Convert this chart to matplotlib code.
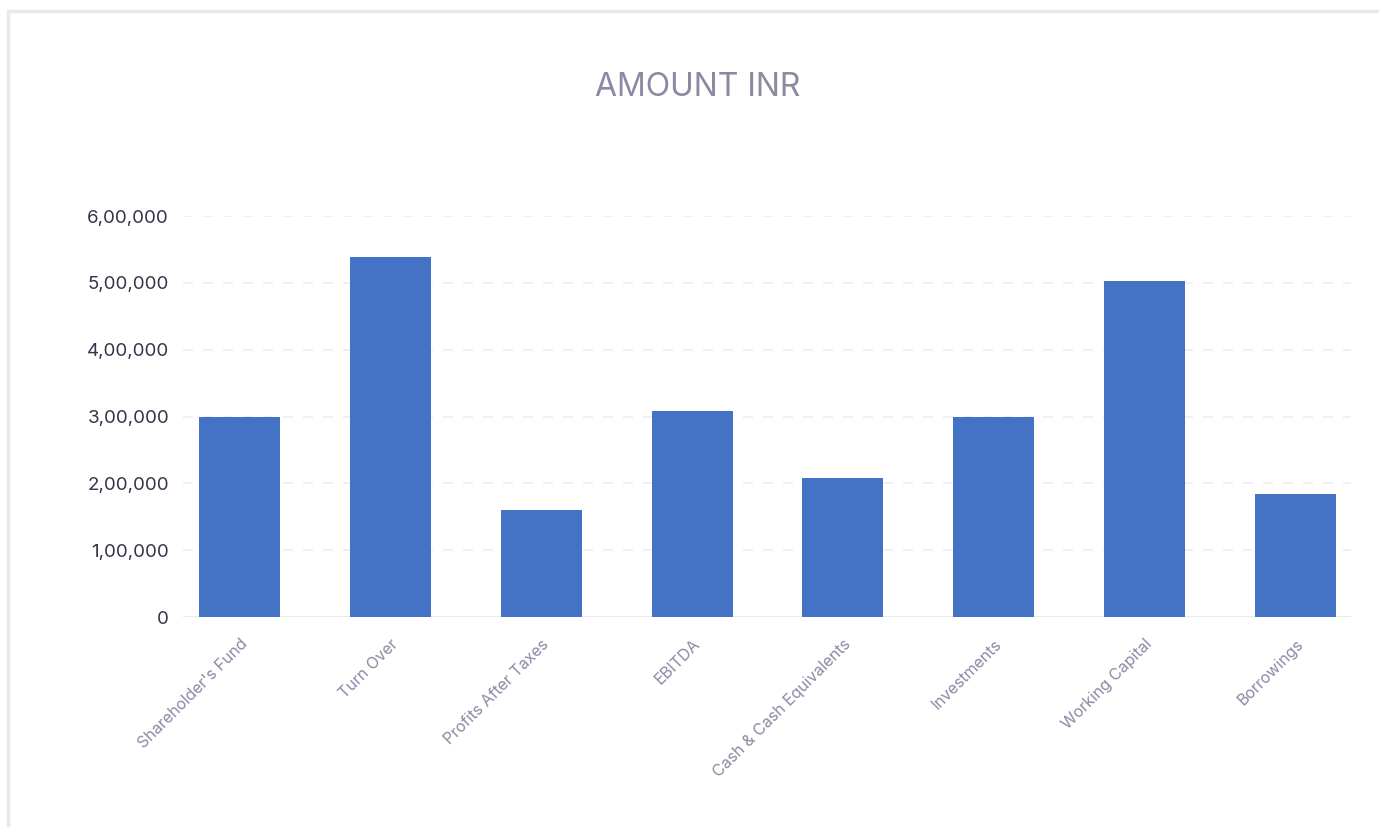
import matplotlib.pyplot as plt
from matplotlib.patches import Rectangle
from matplotlib.ticker import FuncFormatter

categories = ["Shareholder's Fund", "Turn Over", "Profits After Taxes", "EBITDA",
              "Cash & Cash Equivalents", "Investments", "Working Capital", "Borrowings"]
amounts = [300000, 538000, 160000, 308000, 208000, 300000, 503000, 184000]
y_ticks = [0, 100000, 200000, 300000, 400000, 500000, 600000]

plt.rcParams['font.family'] = ['Inter', 'DejaVu Sans']


def indian_format(v, pos=None):
    v = int(round(v))
    s = str(v)
    if len(s) <= 3:
        return s
    head, tail = s[:-3], s[-3:]
    groups = []
    while len(head) > 2:
        groups.insert(0, head[-2:])
        head = head[:-2]
    if head:
        groups.insert(0, head)
    return ",".join(groups + [tail])


fig = plt.figure(figsize=(13.79, 8.27), dpi=100)
W, H = 1379, 827

# light card outline
fig.patches.append(Rectangle((8 / W, -0.1), 1.2, (H - 11) / H + 0.1,
                             transform=fig.transFigure, fill=False,
                             edgecolor='#e8e9ef', linewidth=2.5))

ax = fig.add_axes([183 / W, 1 - 617 / H, (1351 - 183) / W, (617 - 216) / H])
x = list(range(len(categories)))
ax.bar(x, amounts, width=0.537, color='#4472c4', zorder=3)

ax.set_xlim(-0.375, 7.368)
ax.set_ylim(0, 600000)
ax.set_yticks(y_ticks)
ax.yaxis.set_major_formatter(FuncFormatter(indian_format))
ax.grid(axis='y', color='#ececf3', linestyle=(0, (6, 6)), linewidth=1.2, zorder=0)
ax.axhline(0, color='#e8e8f0', linewidth=2, zorder=2)

for s in ax.spines.values():
    s.set_visible(False)
ax.tick_params(axis='both', length=0)
ax.tick_params(axis='y', labelsize=13.5, labelcolor='#34344a', pad=10)
ax.set_xticks(x)
ax.set_xticklabels(categories, rotation=45, ha='right', va='top',
                   rotation_mode='anchor', fontsize=11.5, color='#8a8aa6')
ax.tick_params(axis='x', pad=14)

fig.text(698 / W, 1 - 87 / H, "AMOUNT INR", ha='center', va='center',
         fontsize=23, color='#8a8aa3')

fig.savefig("out.png", dpi=100, facecolor='white')
